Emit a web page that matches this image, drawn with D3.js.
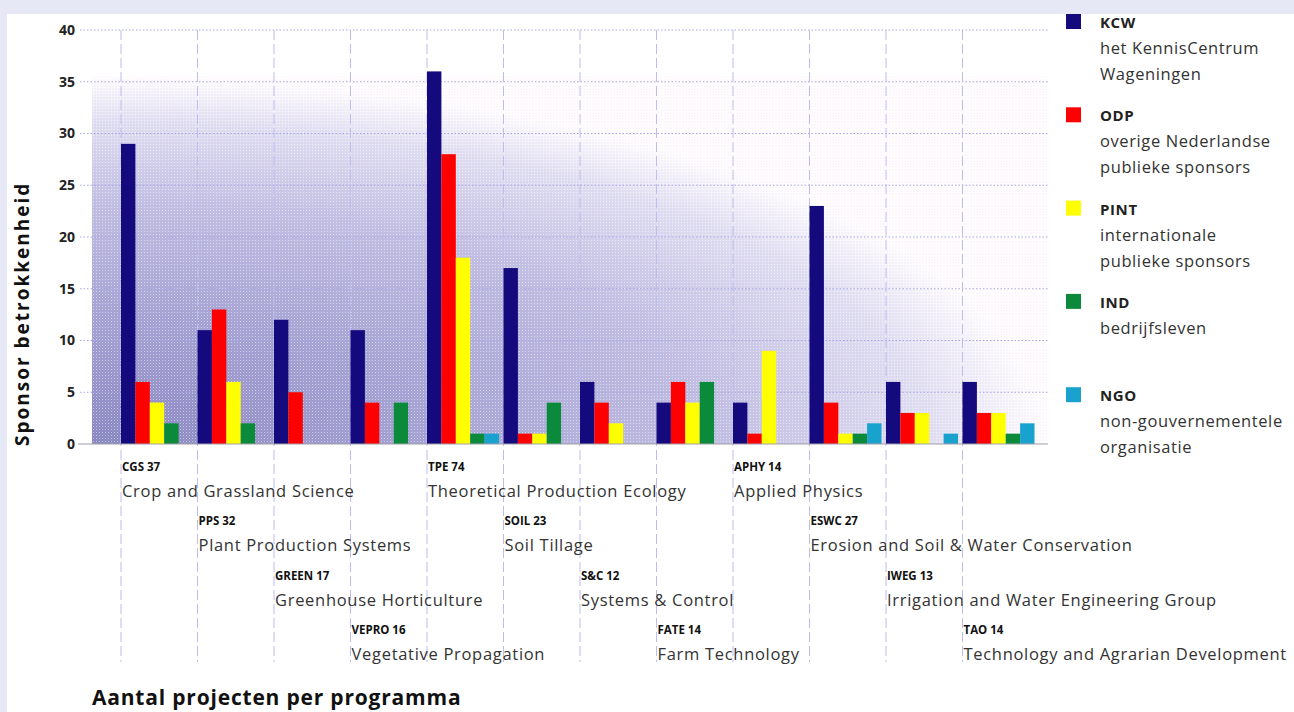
<!DOCTYPE html>
<html>
<head>
<meta charset="utf-8">
<script src="https://cdn.jsdelivr.net/npm/d3@7/dist/d3.min.js"></script>
<style>
  html, body { margin: 0; padding: 0; background: #e6e8f5; }
  svg { display: block; font-family: "Open Sans", "Noto Sans", sans-serif; }
</style>
</head>
<body>
<svg id="chart" width="1294" height="712"></svg>
<script>
// programma's: code, aantal projecten, naam
const codes = ['CGS', 'PPS', 'GREEN', 'VEPRO', 'TPE', 'SOIL', 'S&C', 'FATE', 'APHY', 'ESWC', 'IWEG', 'TAO'];
const projects = [37, 32, 17, 16, 74, 23, 12, 14, 14, 27, 13, 14];
const names = [
    'Crop and Grassland Science',
    'Plant Production Systems',
    'Greenhouse Horticulture',
    'Vegetative Propagation',
    'Theoretical Production Ecology',
    'Soil Tillage',
    'Systems & Control',
    'Farm Technology',
    'Applied Physics',
    'Erosion and Soil & Water Conservation',
    'Irrigation and Water Engineering Group',
    'Technology and Agrarian Development',
];

// sponsors
const sponsors = ['KCW', 'ODP', 'PINT', 'IND', 'NGO'];
const sponsorText = [
    ['het KennisCentrum', 'Wageningen'],
    ['overige Nederlandse', 'publieke sponsors'],
    ['internationale', 'publieke sponsors'],
    ['bedrijfsleven'],
    ['non-gouvernementele', 'organisatie'],
];
const colors = ['#150a7d', '#ff0000', '#ffff00', '#0b8a3c', '#1aa2cf'];

// sponsor betrokkenheid per programma
const KCW = [29, 11, 12, 11, 36, 17, 6, 4, 4, 23, 6, 6];
const ODP = [6, 13, 5, 4, 28, 1, 4, 6, 1, 4, 3, 3];
const PINT = [4, 6, 0, 0, 18, 1, 2, 4, 9, 1, 3, 3];
const IND = [2, 2, 0, 4, 1, 4, 0, 6, 0, 1, 0, 1];
const NGO = [0, 0, 0, 0, 1, 0, 0, 0, 0, 2, 1, 2];
const series = [KCW, ODP, PINT, IND, NGO];

const yTicks = [0, 5, 10, 15, 20, 25, 30, 35, 40];

const svg = d3.select('#chart');
const defs = svg.append('defs');

// witte achtergrond
svg.append('rect').attr('x', 7).attr('y', 14).attr('width', 1287).attr('height', 698).attr('fill', '#fff');

const y = d3.scaleLinear().domain([0, 40]).range([444, 30]);
const x = d3.scaleBand().domain(codes).range([121, 121 + 12 * 76.5]);
const xs = d3.scaleBand().domain(sponsors).range([0, 72]);

// verloop achter de staven
const grad = defs.append('radialGradient')
    .attr('id', 'shade')
    .attr('cx', 0).attr('cy', 1).attr('r', 1).attr('fx', 0).attr('fy', 1);
[
    [0, '#8686c0'],
    [0.35, '#a2a2d2'],
    [0.65, '#bebee2'],
    [0.88, '#e0e0f2'],
    [1, '#ffffff'],
].forEach(([o, c]) => grad.append('stop').attr('offset', o).attr('stop-color', c));

const dots = defs.append('pattern')
    .attr('id', 'dots')
    .attr('patternUnits', 'userSpaceOnUse')
    .attr('width', 3).attr('height', 3);
dots.append('rect').attr('width', 1).attr('height', 1).attr('fill', '#fff').attr('opacity', 0.5);
dots.append('rect').attr('x', 1.5).attr('y', 1.5).attr('width', 1).attr('height', 1).attr('fill', '#eab4ee').attr('opacity', 0.4);

const shadeBox = { x: 92, y: y(35.5), w: 1048 - 92, h: 444 - y(35.5) };
svg.append('rect')
    .attr('x', shadeBox.x).attr('y', shadeBox.y)
    .attr('width', shadeBox.w).attr('height', shadeBox.h)
    .attr('fill', 'url(#shade)');
svg.append('rect')
    .attr('x', shadeBox.x).attr('y', shadeBox.y)
    .attr('width', shadeBox.w).attr('height', shadeBox.h)
    .attr('fill', 'url(#dots)');

// horizontale rasterlijnen
svg.append('g')
    .selectAll('line')
    .data(yTicks.filter((d) => d > 0))
    .join('line')
    .attr('x1', 80).attr('x2', 1048)
    .attr('y1', (d) => y(d)).attr('y2', (d) => y(d))
    .attr('stroke', '#a6a6e4')
    .attr('stroke-dasharray', '1.5,2');

// verticale scheidingslijnen
svg.append('g')
    .selectAll('line')
    .data(codes)
    .join('line')
    .attr('x1', (d) => x(d)).attr('x2', (d) => x(d))
    .attr('y1', y(40)).attr('y2', 662)
    .attr('stroke', '#bcbcf0')
    .attr('stroke-dasharray', '10,4');

// y-as
const yAxis = d3.axisLeft(y).tickValues(yTicks).tickSize(0).tickPadding(0);
const ga = svg.append('g').attr('transform', 'translate(75,0)').call(yAxis);
ga.select('.domain').remove();
ga.selectAll('text')
    .attr('font-size', 14)
    .attr('font-weight', 'bold')
    .attr('fill', '#222')
    .attr('font-family', '"Open Sans", sans-serif');

// staven
const groups = svg.append('g')
    .selectAll('g')
    .data(codes)
    .join('g')
    .attr('transform', (d) => `translate(${x(d)},0)`);

groups.selectAll('rect')
    .data((d, i) => sponsors.map((s, j) => ({ s, v: series[j][i] })))
    .join('rect')
    .attr('x', (d) => xs(d.s))
    .attr('width', xs.bandwidth())
    .attr('y', (d) => y(d.v))
    .attr('height', (d) => y(0) - y(d.v))
    .attr('fill', (d, j) => colors[j]);

// nullijn
svg.append('line')
    .attr('x1', 78).attr('x2', 1048)
    .attr('y1', y(0)).attr('y2', y(0))
    .attr('stroke', '#a0a0a8');

// programmalabels in vier rijen
const labels = svg.append('g')
    .selectAll('g')
    .data(codes)
    .join('g')
    .attr('transform', (d, i) => `translate(${x(d) + 1},${471 + (i % 4) * 54.3})`);

labels.append('text')
    .text((d, i) => d + ' ' + projects[i])
    .attr('font-size', 11.5)
    .attr('font-weight', 'bold')
    .attr('fill', '#111');

labels.append('text')
    .text((d, i) => names[i])
    .attr('y', 26)
    .attr('font-size', 16.5)
    .attr('letter-spacing', 0.7)
    .attr('fill', '#333');

// aslabel
svg.append('text')
    .attr('transform', 'translate(29,446) rotate(-90)')
    .attr('font-size', 19)
    .attr('font-weight', 'bold')
    .attr('letter-spacing', 2)
    .attr('fill', '#111')
    .text('Sponsor betrokkenheid');

svg.append('text')
    .attr('x', 92).attr('y', 705)
    .attr('font-size', 21)
    .attr('font-weight', 'bold')
    .attr('letter-spacing', 0.8)
    .attr('fill', '#111')
    .text('Aantal projecten per programma');

// legenda
const legend = svg.append('g')
    .selectAll('g')
    .data(sponsors)
    .join('g')
    .attr('transform', (d, i) => `translate(1066,${14 + i * 93.3})`);

legend.append('rect')
    .attr('width', 15).attr('height', 15)
    .attr('fill', (d, i) => colors[i]);

legend.append('text')
    .attr('x', 34).attr('y', 14)
    .attr('font-size', 15)
    .attr('font-weight', 'bold')
    .attr('letter-spacing', 0.6)
    .attr('fill', '#222')
    .text((d) => d);

legend.selectAll('text.sub')
    .data((d, i) => sponsorText[i])
    .join('text')
    .attr('class', 'sub')
    .attr('x', 34)
    .attr('y', (d, k) => 40 + k * 26)
    .attr('font-size', 16.5)
    .attr('letter-spacing', 0.6)
    .attr('fill', '#333')
    .text((d) => d);
</script>
</body>
</html>
